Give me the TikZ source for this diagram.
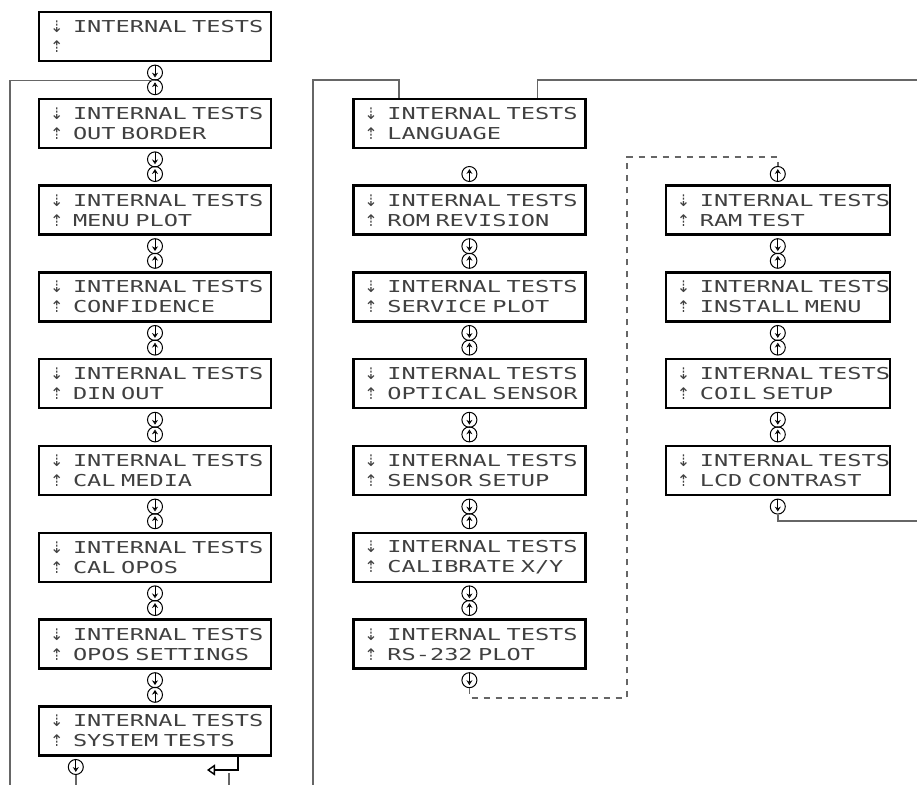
\documentclass[tikz,border=0pt]{standalone}
\usepackage{fontspec}
\usepackage{tikz}
\usetikzlibrary{positioning, arrows.meta, calc}
\newfontfamily\lcdfont[FakeStretch=1.44]{DejaVu Sans Mono}
\newfontfamily\symfont{DejaVu Sans}
\newcommand{\lcdmark}[1]{\makebox[11.5pt][l]{\symfont\fontsize{8pt}{8pt}\selectfont #1}}
\newcommand{\lcdtext}[1]{\mbox{\lcdmark{⇣}INTERNAL TESTS}\\\mbox{\lcdmark{⇡}#1}}

\begin{document}
\begin{tikzpicture}[
    x=0.5pt, y=-0.5pt,
    node distance=17.7pt,
    lcd/.style={rectangle, draw=black, line width=1.2pt, minimum width=116pt, minimum height=24.5pt, text width=105pt, align=left, inner xsep=5.5pt, inner ysep=0pt, text=black!75, font=\lcdfont\fontsize{8.2pt}{10pt}\selectfont},
    lcdnarrow/.style={lcd, minimum width=112pt, text width=101pt},
    dncirc/.style={circle, draw, line width=0.5pt, minimum size=7.5pt, inner sep=0pt, path picture={\draw[line width=0.5pt, -{Stealth[open, length=2.4pt, width=3pt]}] (path picture bounding box.north) -- ([yshift=1.3pt]path picture bounding box.south);}},
    upcirc/.style={circle, draw, line width=0.5pt, minimum size=7.5pt, inner sep=0pt, path picture={\draw[line width=0.5pt, -{Stealth[open, length=2.4pt, width=3pt]}] (path picture bounding box.south) -- ([yshift=-1.3pt]path picture bounding box.north);}},
    link/.style={draw=black!60, line width=0.7pt},
    dashlink/.style={link, dashed}
]
    \useasboundingbox (0,0) rectangle (917,785);

    % Left column
    \node [lcd] (topbox) at (155,36.5) {\lcdtext{}};
    \node [lcd, below=of topbox] (outborder) {\lcdtext{OUT BORDER}};
    \node [lcd, below=of outborder] (menuplot) {\lcdtext{MENU PLOT}};
    \node [lcd, below=of menuplot] (confidence) {\lcdtext{CONFIDENCE}};
    \node [lcd, below=of confidence] (dinout) {\lcdtext{DIN OUT}};
    \node [lcd, below=of dinout] (calmedia) {\lcdtext{CAL MEDIA}};
    \node [lcd, below=of calmedia] (calopos) {\lcdtext{CAL OPOS}};
    \node [lcd, below=of calopos] (opos) {\lcdtext{OPOS SETTINGS}};
    \node [lcd, below=of opos] (systests) {\lcdtext{SYSTEM TESTS}};

    % Middle column
    \node [lcd, right=40pt of outborder] (language) {\lcdtext{LANGUAGE}};
    \node [lcd, below=of language] (romrev) {\lcdtext{ROM REVISION}};
    \node [lcd, below=of romrev] (servplot) {\lcdtext{SERVICE PLOT}};
    \node [lcd, below=of servplot] (optsensor) {\lcdtext{OPTICAL SENSOR}};
    \node [lcd, below=of optsensor] (sensorsetup) {\lcdtext{SENSOR SETUP}};
    \node [lcd, below=of sensorsetup] (calxy) {\lcdtext{CALIBRATE X/Y}};
    \node [lcd, below=of calxy] (rsplot) {\lcdtext{RS-232 PLOT}};

    % Right column
    \node [lcdnarrow, right=39pt of romrev] (ramtest) {\lcdtext{RAM TEST}};
    \node [lcdnarrow, below=of ramtest] (install) {\lcdtext{INSTALL MENU}};
    \node [lcdnarrow, below=of install] (coil) {\lcdtext{COIL SETUP}};
    \node [lcdnarrow, below=of coil] (lcdcontrast) {\lcdtext{LCD CONTRAST}};

    % Keys, left column
    \node [dncirc, below=1.2pt of topbox] (topboxdn) {};
    \node [upcirc, above=1.2pt of outborder] (outborderup) {};
    \node [dncirc, below=1.2pt of outborder] (outborderdn) {};
    \node [upcirc, above=1.2pt of menuplot] (menuplotup) {};
    \node [dncirc, below=1.2pt of menuplot] (menuplotdn) {};
    \node [upcirc, above=1.2pt of confidence] (confidenceup) {};
    \node [dncirc, below=1.2pt of confidence] (confidencedn) {};
    \node [upcirc, above=1.2pt of dinout] (dinoutup) {};
    \node [dncirc, below=1.2pt of dinout] (dinoutdn) {};
    \node [upcirc, above=1.2pt of calmedia] (calmediaup) {};
    \node [dncirc, below=1.2pt of calmedia] (calmediadn) {};
    \node [upcirc, above=1.2pt of calopos] (caloposup) {};
    \node [dncirc, below=1.2pt of calopos] (caloposdn) {};
    \node [upcirc, above=1.2pt of opos] (oposup) {};
    \node [dncirc, below=1.2pt of opos] (oposdn) {};
    \node [upcirc, above=1.2pt of systests] (systestsup) {};
    \node [dncirc, below=1.2pt of systests.south west, xshift=19pt] (systestsdn) {};

    % Keys, middle column
    \node [upcirc, above=1.2pt of romrev] (romrevup) {};
    \node [dncirc, below=1.2pt of romrev] (romrevdn) {};
    \node [upcirc, above=1.2pt of servplot] (servplotup) {};
    \node [dncirc, below=1.2pt of servplot] (servplotdn) {};
    \node [upcirc, above=1.2pt of optsensor] (optsensorup) {};
    \node [dncirc, below=1.2pt of optsensor] (optsensordn) {};
    \node [upcirc, above=1.2pt of sensorsetup] (sensorsetupup) {};
    \node [dncirc, below=1.2pt of sensorsetup] (sensorsetupdn) {};
    \node [upcirc, above=1.2pt of calxy] (calxyup) {};
    \node [dncirc, below=1.2pt of calxy] (calxydn) {};
    \node [upcirc, above=1.2pt of rsplot] (rsplotup) {};
    \node [dncirc, below=1.2pt of rsplot] (rsplotdn) {};

    % Keys, right column
    \node [upcirc, above=1.2pt of ramtest] (ramtestup) {};
    \node [dncirc, below=1.2pt of ramtest] (ramtestdn) {};
    \node [upcirc, above=1.2pt of install] (installup) {};
    \node [dncirc, below=1.2pt of install] (installdn) {};
    \node [upcirc, above=1.2pt of coil] (coilup) {};
    \node [dncirc, below=1.2pt of coil] (coildn) {};
    \node [upcirc, above=1.2pt of lcdcontrast] (lcdcontrastup) {};
    \node [dncirc, below=1.2pt of lcdcontrast] (lcdcontrastdn) {};

    % Enter key
    \draw [line width=0.7pt, -{Triangle[open, length=4pt, width=5.5pt]}] (238,757) |- (207,770);
    \coordinate (ret) at (229,773);

    % Rails
    \coordinate (leftrail) at (10,785);
    \coordinate (midtop) at (313,80);
    \coordinate (midbot) at (313,785);
    \coordinate (righttop) at (917,80);
    \coordinate (rightmid) at (917,521);
    \coordinate (dashbot) at (627,698);
    \coordinate (dashtop) at (627,157);

    % Connections
    \draw [link] (topboxdn.south) -| (leftrail);
    \draw [link] ($(language.north west)!0.2!(language.north east)$) |- (midtop) -- (midbot);
    \draw [link] ($(language.north west)!0.79!(language.north east)$) |- (righttop);
    \draw [link] (lcdcontrastdn.south) |- (rightmid);
    \draw [dashlink] (rsplotdn.south) |- (dashbot) -- (dashtop) -| (ramtestup.north);
    \draw [link] (systestsdn.south) -- (systestsdn.south |- leftrail);
    \draw [link] (ret) -- (ret |- leftrail);
\end{tikzpicture}
\end{document}
